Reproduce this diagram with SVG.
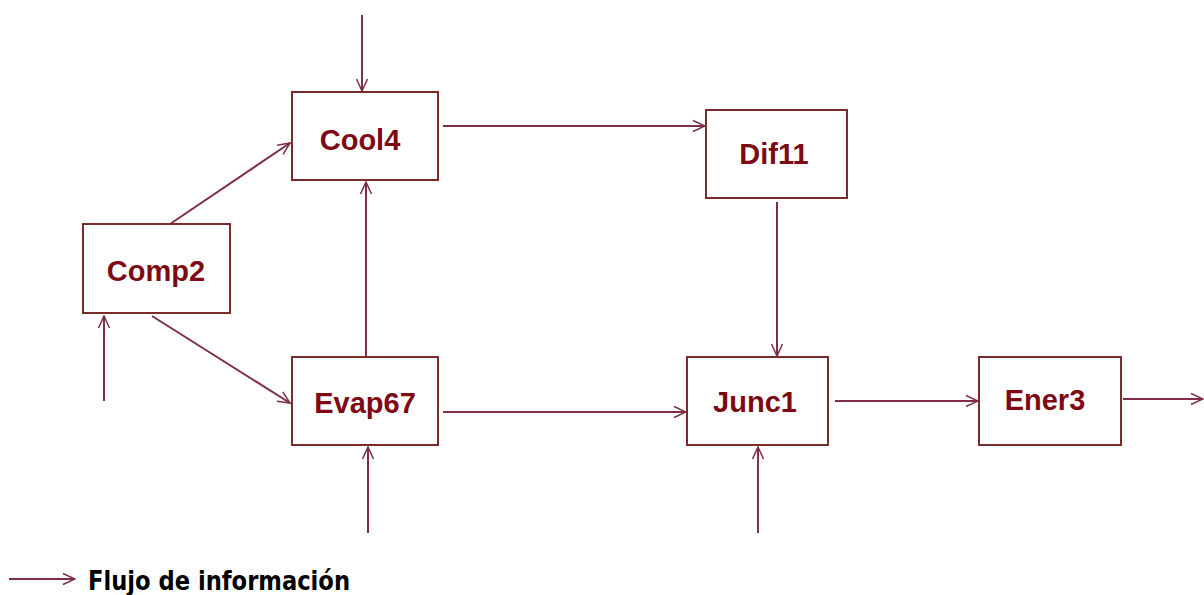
<svg xmlns="http://www.w3.org/2000/svg" width="1204" height="595" viewBox="0 0 1204 595">
<style>
.box{fill:#ffffff;stroke:#7a2c2c;stroke-width:2}
.lbl{font-family:"Liberation Sans",Arial,sans-serif;font-weight:bold;font-size:29px;fill:#7d0a12;text-anchor:middle}
.edge{fill:none;stroke:#7e2f45;stroke-width:2;marker-end:url(#arr)}
.leg{font-family:"DejaVu Sans Condensed","Liberation Sans",sans-serif;font-weight:bold;font-size:27px;fill:#000000}
</style>
<defs>
<marker id="arr" viewBox="0 0 14 14" refX="13" refY="7" markerWidth="14" markerHeight="14" markerUnits="userSpaceOnUse" orient="auto">
<path d="M1,1.5 L13,7 L1,12.5" fill="none" stroke="#7e2f45" stroke-width="1.5"/>
</marker>
</defs>
<rect width="1204" height="595" fill="#ffffff"/>
<g id="connectors">
<line class="edge" x1="362" y1="15" x2="362" y2="91"/>
<line class="edge" x1="170" y1="224" x2="290" y2="143"/>
<line class="edge" x1="366" y1="357" x2="366" y2="182"/>
<line class="edge" x1="104" y1="401" x2="104" y2="316"/>
<line class="edge" x1="152" y1="316" x2="290" y2="403"/>
<line class="edge" x1="368" y1="533" x2="368" y2="447"/>
<line class="edge" x1="443" y1="126" x2="705" y2="126"/>
<line class="edge" x1="443" y1="412" x2="686" y2="412"/>
<line class="edge" x1="777" y1="202" x2="777" y2="356"/>
<line class="edge" x1="758" y1="533" x2="758" y2="447"/>
<line class="edge" x1="835" y1="401" x2="978" y2="401"/>
<line class="edge" x1="1123" y1="399" x2="1203" y2="399"/>
</g>
<g id="Cool4"><rect class="box" x="292" y="92" width="146" height="88"/><text class="lbl" x="360" y="150">Cool4</text></g>
<g id="Comp2"><rect class="box" x="83" y="224" width="147" height="89"/><text class="lbl" x="156" y="281">Comp2</text></g>
<g id="Evap67"><rect class="box" x="292" y="357" width="146" height="88"/><text class="lbl" x="365" y="413">Evap67</text></g>
<g id="Dif11"><rect class="box" x="706" y="110" width="141" height="88"/><text class="lbl" x="774" y="164">Dif11</text></g>
<g id="Junc1"><rect class="box" x="687" y="357" width="141" height="88"/><text class="lbl" x="755" y="412">Junc1</text></g>
<g id="Ener3"><rect class="box" x="979" y="357" width="142" height="88"/><text class="lbl" x="1045" y="410">Ener3</text></g>
<g id="legend">
<line class="edge" x1="9" y1="579" x2="75" y2="579"/>
<text class="leg" x="88" y="590" textLength="262" lengthAdjust="spacingAndGlyphs">Flujo de información</text>
</g>
</svg>
